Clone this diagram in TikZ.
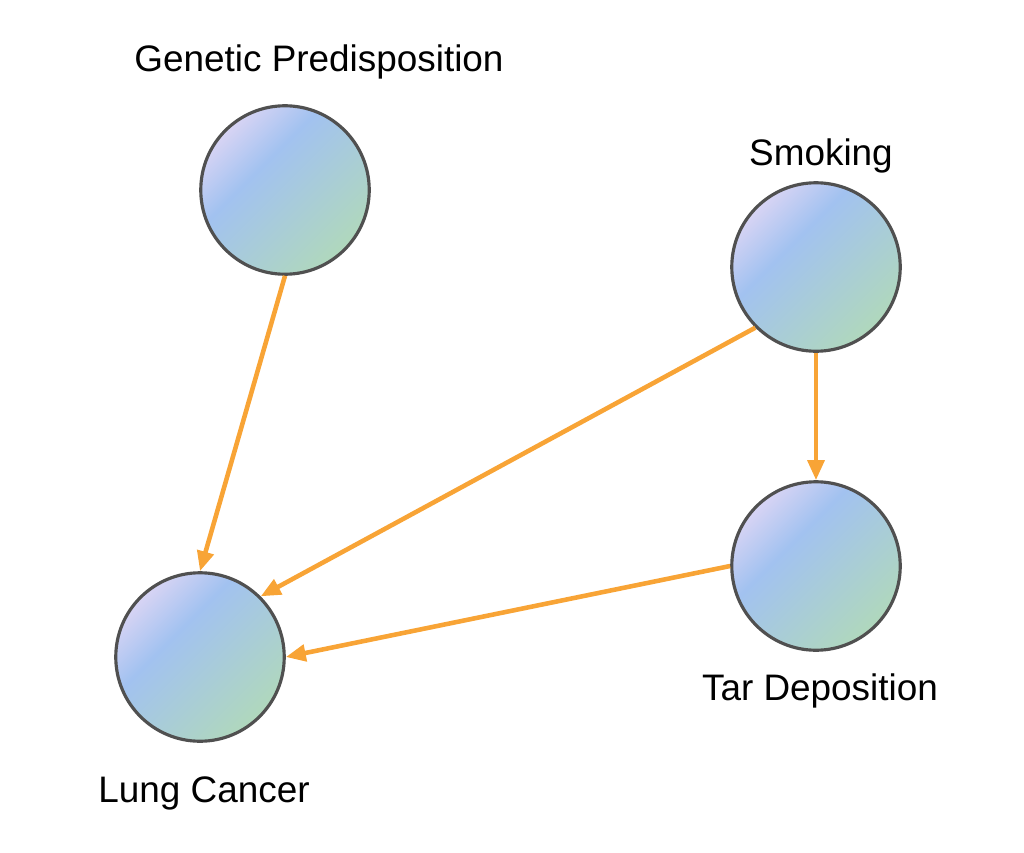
\documentclass[tikz,border=0pt]{standalone}
\usepackage{fontspec}
\setmainfont{Liberation Sans}
\usetikzlibrary{arrows.meta}
\definecolor{orbline}{HTML}{505050}
\definecolor{orblav}{HTML}{D8D4F4}
\definecolor{orbblue}{HTML}{A2C2F0}
\definecolor{orbgreen}{HTML}{B0D8BC}
\definecolor{linkorange}{HTML}{F8A436}
\pgfdeclareverticalshading{orbshade}{100bp}{color(0bp)=(orbgreen); color(25bp)=(orbgreen); color(60bp)=(orbblue); color(75bp)=(orblav); color(100bp)=(orblav)}
\begin{document}
\begin{tikzpicture}[
    x=0.02cm, y=-0.02cm,
    orb/.style={circle, draw=orbline, line width=1.8pt, minimum size=3.37cm,
        shading=orbshade, shading angle=45},
    tag/.style={font=\fontsize{21}{25}\selectfont, inner sep=0pt},
    link/.style={draw=linkorange, line width=2.6pt,
        -{Triangle[length=0.4cm, width=0.33cm]}}
]
\useasboundingbox (0,0) rectangle (1024,852);
% variables
\node[orb] (gene) at (285,190) {};
\node[orb] (smoke) at (816,267) {};
\node[orb] (tar) at (816,566) {};
\node[orb] (lung) at (200,657) {};
% labels
\node[tag] (genelabel) at (319,62) {Genetic Predisposition};
\node[tag] (smokelabel) at (821,156) {Smoking};
\node[tag] (tarlabel) at (820,691) {Tar Deposition};
\node[tag] (lunglabel) at (204,793) {Lung Cancer};
% causal links
\draw[link] (gene.south) -- (lung.north);
\draw[link] (smoke.south west) -- (lung.north east);
\draw[link] (smoke.south) -- (tar.north);
\draw[link] (tar.west) -- (lung.east);
\end{tikzpicture}
\end{document}
